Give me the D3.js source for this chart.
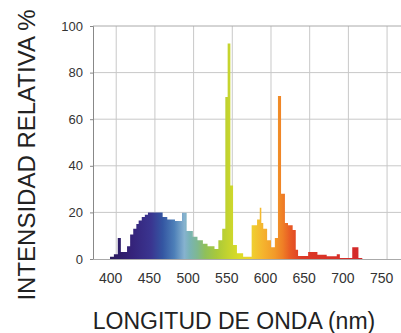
<!DOCTYPE html>
<html>
<head>
<meta charset="utf-8">
<script src="https://cdn.jsdelivr.net/npm/d3@7"></script>
<style>
  html, body { margin: 0; padding: 0; background: #fff; }
  svg { display: block; font-family: "Liberation Sans", Arial, sans-serif; }
</style>
</head>
<body>
<svg id="chart" width="401" height="333"></svg>
<script>
// bin start wavelengths (nm) and relative intensity (%)
const binStart = [392, 397, 402, 406, 414, 418, 422, 426, 429, 433, 437, 441, 460, 466, 476,
  485, 491, 499, 505, 512, 518, 527, 532, 537, 541, 544, 547.5, 551, 556, 564,
  575, 582, 585.5, 587.5, 590, 595, 600, 605, 609, 613, 618, 622, 628, 632, 635,
  648, 660, 672, 685, 689, 705, 713];
const binEnd = 718;
const intensity = [1, 2, 9, 3, 5.5, 10.5, 13, 15, 16.5, 18, 19, 20, 18, 17, 16.3,
  19.8, 12, 9.5, 8, 6.5, 5.5, 4.3, 8, 13, 69.5, 92.5, 31.5, 6, 2.5, 1,
  14.5, 17, 22, 15.5, 13, 8, 5, 9, 70, 28, 15.5, 14.5, 12.5, 4, 1.3,
  3, 1.8, 1.2, 2, 0.4, 5, 0.4];

const xTicks = [400, 450, 500, 550, 600, 650, 700, 750];
const yTicks = [0, 20, 40, 60, 80, 100];

// spectrum colours by wavelength
const colorNm = [395, 420, 445, 460, 475, 488, 495, 505, 515, 530, 545, 560, 575, 590, 605, 615, 625, 640, 720];
const colorHex = ['#2a1a5e', '#35237a', '#3a3590', '#3456a2', '#4d7fb8', '#86b2cf', '#79b3b5', '#7fb890',
  '#8fc05a', '#a9c93a', '#c5d42e', '#dcdc28', '#efd030', '#f5b32e', '#f29a2a', '#ef7f26', '#e85a24',
  '#dc3a26', '#d3282a'];

const svg = d3.select('#chart');
const m = {left: 93, right: 401, top: 26, bottom: 259};

const x = d3.scaleLinear().domain([370, 768]).range([m.left, m.right]);
const y = d3.scaleLinear().domain([0, 100]).range([m.bottom, m.top]);

// gradient along x
const grad = svg.append('defs').append('linearGradient')
  .attr('id', 'spec')
  .attr('gradientUnits', 'userSpaceOnUse')
  .attr('x1', x(colorNm[0])).attr('x2', x(colorNm[colorNm.length - 1]))
  .attr('y1', 0).attr('y2', 0);
const span = colorNm[colorNm.length - 1] - colorNm[0];
grad.selectAll('stop').data(colorNm).enter().append('stop')
  .attr('offset', d => (d - colorNm[0]) / span)
  .attr('stop-color', (d, i) => colorHex[i]);

// grid
svg.append('g').selectAll('line').data(yTicks.slice(1, -1)).enter().append('line')
  .attr('x1', m.left).attr('x2', m.right)
  .attr('y1', d => y(d)).attr('y2', d => y(d))
  .attr('stroke', '#c8c8c8');
svg.append('g').selectAll('line').data(xTicks).enter().append('line')
  .attr('x1', d => x(d)).attr('x2', d => x(d))
  .attr('y1', m.top).attr('y2', m.bottom)
  .attr('stroke', '#c8c8c8');

// spectrum
const pts = binStart.map((d, i) => ({nm: d, v: intensity[i]}));
pts.push({nm: binEnd, v: 0});
const area = d3.area()
  .x(d => x(d.nm))
  .y0(y(0))
  .y1(d => y(d.v))
  .curve(d3.curveStepAfter);
svg.append('path')
  .datum(pts)
  .attr('d', area)
  .attr('fill', 'url(#spec)');

// frame
svg.append('line').attr('x1', m.left).attr('x2', m.right).attr('y1', m.top).attr('y2', m.top)
  .attr('stroke', '#aaa');

// axes
const yAxis = d3.axisLeft(y).tickValues(yTicks).tickSize(3).tickPadding(7);
const gy = svg.append('g').attr('transform', `translate(${m.left},0)`).call(yAxis);
gy.select('.domain').attr('stroke', '#888');
gy.selectAll('.tick line').attr('stroke', '#888');
gy.selectAll('text').attr('font-size', 13).attr('fill', '#333')
  .attr('font-family', '"Liberation Sans", Arial, sans-serif');

const xAxis = d3.axisBottom(x).tickValues(xTicks).tickSize(0).tickPadding(0);
const gx = svg.append('g').attr('transform', `translate(0,${m.bottom})`).call(xAxis);
gx.select('.domain').attr('stroke', '#aaa');
gx.selectAll('text').attr('font-size', 14).attr('fill', '#333')
  .attr('font-family', '"Liberation Sans", Arial, sans-serif')
  .attr('y', 24).attr('dy', 0).attr('dx', -6);

// titles
svg.append('text')
  .attr('transform', 'translate(35,155) rotate(-90)')
  .attr('text-anchor', 'middle')
  .attr('font-size', 24)
  .attr('fill', '#222')
  .text('INTENSIDAD RELATIVA %');

svg.append('text')
  .attr('x', 234).attr('y', 329)
  .attr('text-anchor', 'middle')
  .attr('font-size', 23)
  .attr('fill', '#222')
  .text('LONGITUD DE ONDA (nm)');
</script>
</body>
</html>
